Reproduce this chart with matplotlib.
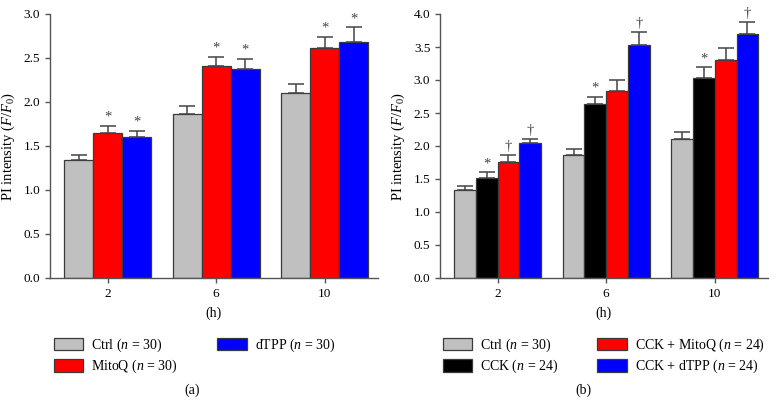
import matplotlib
matplotlib.use("Agg")
import matplotlib.pyplot as plt
import numpy as np
from matplotlib.patches import Patch
from matplotlib.ticker import MultipleLocator, FormatStrFormatter

plt.rcParams['font.family'] = ['Liberation Serif', 'DejaVu Serif']
plt.rcParams['mathtext.fontset'] = 'custom'
plt.rcParams['mathtext.rm'] = 'Liberation Serif'
plt.rcParams['mathtext.it'] = 'Liberation Serif:italic'

# time points (h)
hours = ['2', '6', '10']

# panel (a)
a_names = ['Ctrl ($n$ = 30)', 'MitoQ ($n$ = 30)', 'dTPP ($n$ = 30)']
a_ctrl = [1.34, 1.86, 2.10]
a_ctrl_err = [0.06, 0.10, 0.11]
a_mitoq = [1.65, 2.41, 2.61]
a_mitoq_err = [0.08, 0.10, 0.13]
a_dtpp = [1.60, 2.38, 2.68]
a_dtpp_err = [0.07, 0.11, 0.17]
a_marks = [['', '', ''], ['*', '*', '*'], ['*', '*', '*']]

# panel (b)
b_names = ['Ctrl ($n$ = 30)', 'CCK ($n$ = 24)', 'CCK + MitoQ ($n$ = 24)', 'CCK + dTPP ($n$ = 24)']
b_ctrl = [1.34, 1.86, 2.10]
b_ctrl_err = [0.06, 0.10, 0.11]
b_cck = [1.52, 2.63, 3.03]
b_cck_err = [0.08, 0.12, 0.16]
b_mitoq = [1.76, 2.83, 3.30]
b_mitoq_err = [0.10, 0.17, 0.19]
b_dtpp = [2.05, 3.53, 3.69]
b_dtpp_err = [0.05, 0.19, 0.19]
b_marks = [['', '', ''], ['*', '*', '*'], ['\u2020', '', ''], ['\u2020', '\u2020', '\u2020']]

edge = '#3a3a3a'
axcol = '#555555'


def draw_panel(ax, series, errs, colors, marks, ymax):
    n = len(series)
    w = 0.8 / n
    x = np.arange(len(hours))
    for i in range(n):
        pos = x - 0.4 + w * (i + 0.5)
        ax.bar(pos, series[i], w, color=colors[i], edgecolor=edge, linewidth=0.9, zorder=2)
        ax.errorbar(pos, series[i], yerr=[np.zeros(len(hours)), errs[i]], fmt='none',
                    ecolor='#444444', elinewidth=1.1, capsize=5.5, capthick=1.1, zorder=3)
        for j in range(len(hours)):
            if marks[i][j]:
                ax.annotate(marks[i][j], (pos[j], series[i][j] + errs[i][j]),
                            xytext=(0, 1.5), textcoords='offset points',
                            ha='center', va='bottom', fontsize=10.5, color='#444444')
    ax.set_xlim(-0.53, 2.49)
    ax.set_ylim(0, ymax)
    ax.set_xticks(x)
    ax.set_xticklabels(hours)
    ax.yaxis.set_major_locator(MultipleLocator(0.5))
    ax.yaxis.set_major_formatter(FormatStrFormatter('%.1f'))
    ax.spines['top'].set_visible(False)
    ax.spines['right'].set_visible(False)
    for s in ['left', 'bottom']:
        ax.spines[s].set_color(axcol)
        ax.spines[s].set_linewidth(1.0)
    ax.tick_params(direction='out', length=3.5, width=1.0, color=axcol, labelsize=9.5, pad=3.5)
    ax.set_xlabel('(h)', fontsize=10, labelpad=5)
    ax.set_ylabel('PI intensity ($F/F_0$)', fontsize=10.5, labelpad=5)


fig = plt.figure(figsize=(7.77, 4.04), dpi=100)
ax1 = fig.add_axes([50 / 777, 1 - 278 / 404, 328 / 777, 264 / 404])
ax2 = fig.add_axes([440 / 777, 1 - 278 / 404, 328 / 777, 264 / 404])

colors_a = ['#c0c0c0', '#ff0000', '#0000ff']
colors_b = ['#c0c0c0', '#000000', '#ff0000', '#0000ff']

draw_panel(ax1, [a_ctrl, a_mitoq, a_dtpp], [a_ctrl_err, a_mitoq_err, a_dtpp_err],
           colors_a, a_marks, 3.0)
draw_panel(ax2, [b_ctrl, b_cck, b_mitoq, b_dtpp],
           [b_ctrl_err, b_cck_err, b_mitoq_err, b_dtpp_err], colors_b, b_marks, 4.0)

h_a = [Patch(facecolor=c, edgecolor=edge, linewidth=0.9) for c in colors_a]
h_b = [Patch(facecolor=c, edgecolor=edge, linewidth=0.9) for c in colors_b]

fig.legend(h_a, a_names, ncol=2, loc='upper left', bbox_to_anchor=(48 / 777, 1 - 331 / 404),
           frameon=False, fontsize=10, handlelength=2.15, handleheight=1.0,
           handletextpad=0.55, labelspacing=0.3, columnspacing=2.85, borderaxespad=0)
fig.legend(h_b, b_names, ncol=2, loc='upper left', bbox_to_anchor=(437 / 777, 1 - 331 / 404),
           frameon=False, fontsize=10, handlelength=2.15, handleheight=1.0,
           handletextpad=0.55, labelspacing=0.3, columnspacing=2.8, borderaxespad=0)

fig.text(192 / 777, 1 - 390 / 404, '(a)', ha='center', va='center', fontsize=10)
fig.text(583 / 777, 1 - 390 / 404, '(b)', ha='center', va='center', fontsize=10)

fig.savefig('out.png', dpi=100)
